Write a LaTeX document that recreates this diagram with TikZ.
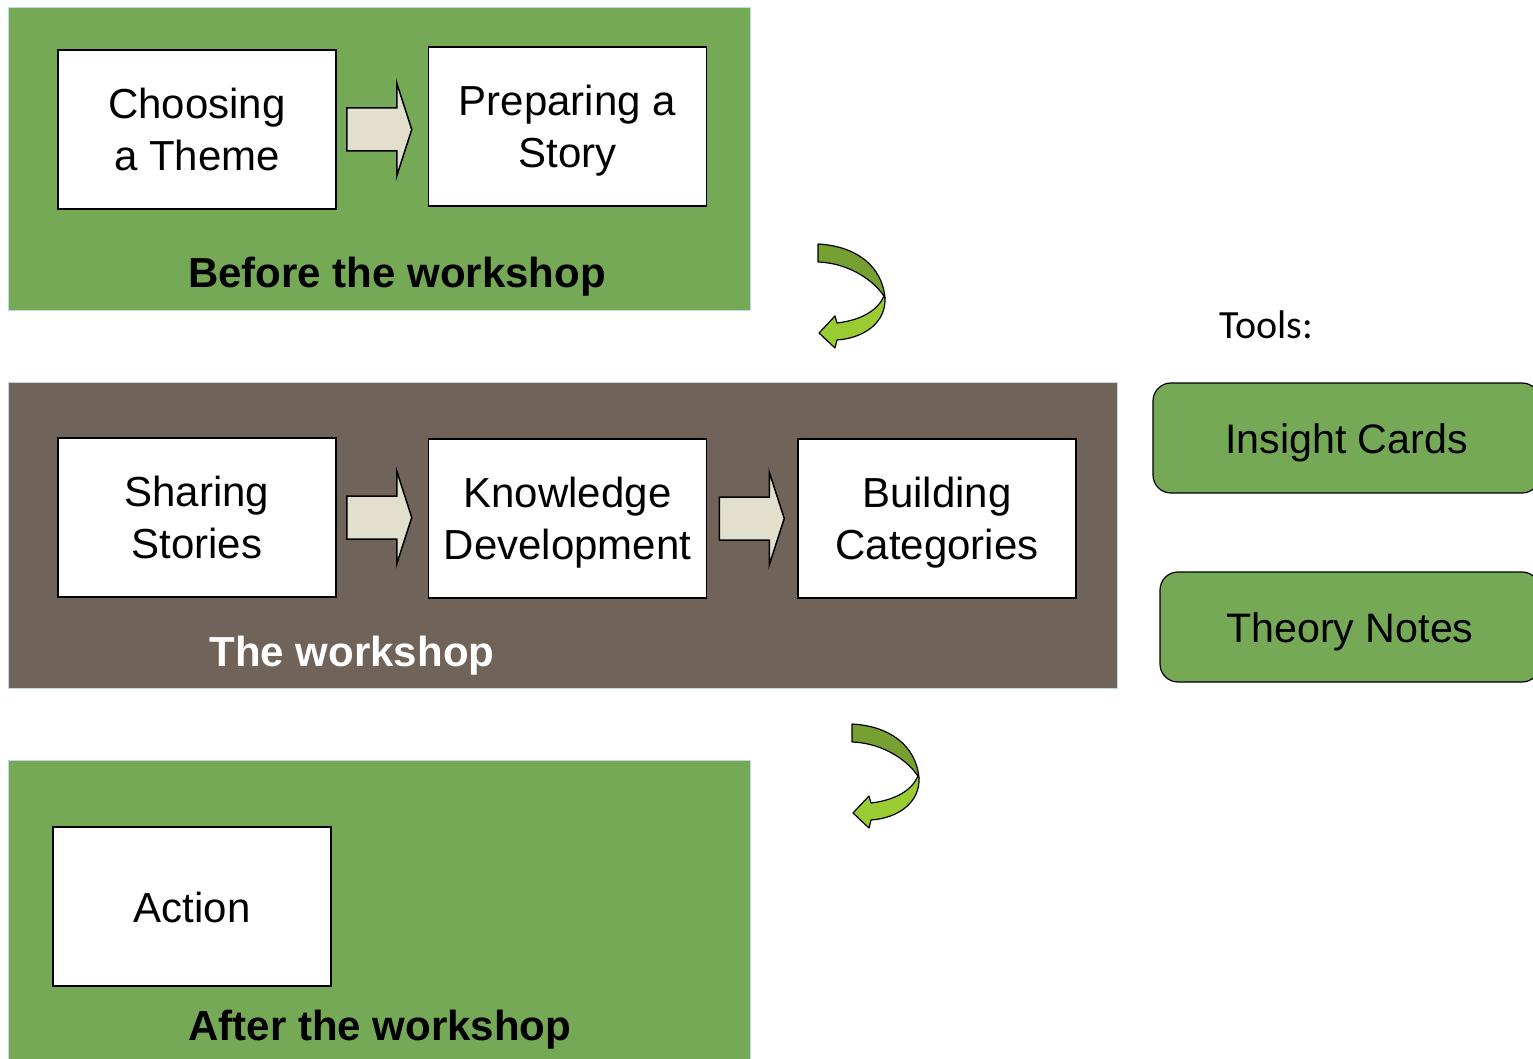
\documentclass[tikz,border=0pt]{standalone}
\usepackage{fontspec}
\setmainfont{Liberation Sans}
\newfontfamily\calibrifont{Carlito}
\usetikzlibrary{calc}
\definecolor{panelgreen}{RGB}{117,169,86}
\definecolor{panelbrown}{RGB}{112,99,89}
\definecolor{panelline}{RGB}{190,218,228}
\definecolor{arrowfill}{RGB}{226,223,204}
\definecolor{darkgreen}{RGB}{119,160,50}
\definecolor{lightgreen}{RGB}{153,204,51}
\newcommand\mystrut{\rule[-4pt]{0pt}{23.5pt}}
\tikzset{
  panel/.style={draw=panelline, line width=0.5pt},
  stepbox/.style={draw=black, fill=white, line width=0.75pt, minimum width=139pt, minimum height=79.5pt, align=center, font=\fontsize{21}{26}\selectfont, inner sep=0pt},
  paneltitle/.style={font=\fontsize{21}{26}\selectfont\bfseries, inner sep=0pt},
  toolbox/.style={draw=black, fill=panelgreen, line width=0.6pt, rounded corners=9pt, minimum height=55pt, font=\fontsize{20.6}{26}\selectfont, inner sep=0pt},
  barrow/.style={draw=black, fill=arrowfill, line width=0.75pt, line join=miter},
  curvearrow/.style={draw=black, line width=0.6pt, line join=round}
}
\begin{document}
\begin{tikzpicture}[x=0.5pt, y=-0.5pt]
\useasboundingbox (0,0) rectangle (1533,1059);
\clip (0,0) rectangle (1533,1059);

% panels
\fill[panelgreen] (8,8) rectangle (750,311);
\draw[panel] (8,8) rectangle (750,311);
\fill[panelbrown] (8,383) rectangle (1117,688);
\draw[panel] (8,383) rectangle (1117,688);
\fill[panelgreen] (8,760) rectangle (750,1080);
\draw[panel] (8,760) rectangle (750,1080);

% before the workshop
\node[stepbox] (choose) at (197,129.5) {\mystrut Choosing\\\mystrut a Theme};
\node[stepbox] (prepare) at (567.5,126.5) {\mystrut Preparing a\\\mystrut Story};
\draw[barrow] ($(choose.east)+(10,-21.5)$) -- ++(50,0) -- ++(0,-25) -- ++(15,46.5) -- ++(-15,46.5) -- ++(0,-25) -- ++(-50,0) -- cycle;
\node[paneltitle] (beforelbl) at (397,272) {\mystrut Before the workshop};

% the workshop
\node[stepbox] (sharing) at (197,517.5) {\mystrut Sharing\\\mystrut Stories};
\node[stepbox] (knowledge) at (567.5,518.5) {\mystrut Knowledge\\\mystrut Development};
\node[stepbox] (building) at (937,518.5) {\mystrut Building\\\mystrut Categories};
\draw[barrow] ($(sharing.east)+(10,-21.5)$) -- ++(50,0) -- ++(0,-25) -- ++(15,46.5) -- ++(-15,46.5) -- ++(0,-25) -- ++(-50,0) -- cycle;
\draw[barrow] ($(knowledge.east)+(12,-21.5)$) -- ++(50,0) -- ++(0,-25) -- ++(15,46.5) -- ++(-15,46.5) -- ++(0,-25) -- ++(-50,0) -- cycle;
\node[paneltitle, text=white] (worklbl) at (352,651) {\mystrut The workshop};

% after the workshop
\node[stepbox] (action) at (192,906.5) {\mystrut Action};
\node[paneltitle] (afterlbl) at (380,1025) {\mystrut After the workshop};

% tools
\node[font=\calibrifont\fontsize{20}{24}\selectfont, inner sep=0pt] (toolslbl) at (1266,325) {Tools:};
\node[toolbox, minimum width=193.5pt] (insight) at (1346.5,438) {\mystrut Insight Cards};
\node[toolbox, minimum width=190pt] (theory) at (1350,627) {\mystrut Theory Notes};

% curved arrows
\foreach \dx/\dy in {0/0, 34/480} {
  \begin{scope}[shift={(\dx,\dy)}]
    \filldraw[curvearrow, fill=darkgreen] (818,244) .. controls (855,246) and (882,265) .. (885,298) .. controls (876,282) and (850,263) .. (818,262) -- cycle;
    \filldraw[curvearrow, fill=lightgreen] (885,298) .. controls (886,322) and (865,338) .. (837,340) -- (835,348) -- (819,333) -- (835,316) -- (837,323) .. controls (862,320) and (878,310) .. (884,296) -- cycle;
  \end{scope}
}
\end{tikzpicture}
\end{document}
